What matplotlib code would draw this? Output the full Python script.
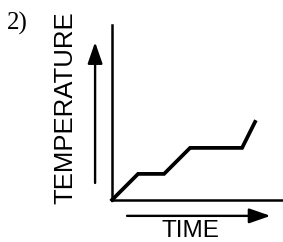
import matplotlib
matplotlib.use("Agg")
import matplotlib.pyplot as plt

# Data (arbitrary units)
time = [0, 2, 4, 6, 10, 11]
temperature = [0, 1, 1, 2, 2, 3]
label_number = "2)"
x_label = "TIME"
y_label = "TEMPERATURE"

fig = plt.figure(figsize=(2.83, 2.42), dpi=100)
fig.patch.set_facecolor("white")

ax = fig.add_axes([0.396, 0.174, 0.604, 0.723])
ax.plot(time, temperature, color="black", lw=2.7, solid_joinstyle="miter", clip_on=False)
ax.set_xlim(0, 13.15)
ax.set_ylim(0, 6.73)
ax.set_xticks([])
ax.set_yticks([])
for s in ["top", "right"]:
    ax.spines[s].set_visible(False)
for s in ["left", "bottom"]:
    ax.spines[s].set_linewidth(1.8)
    ax.spines[s].set_color("black")
ax.patch.set_alpha(0)

sans = "Liberation Sans"
# Number label
fig.text(0.062, 0.905, label_number, family="Liberation Serif", fontsize=18,
         ha="center", va="center")
# Axis labels
fig.text(0.232, 0.553, y_label, family=sans, fontsize=18.5, rotation=90,
         ha="center", va="center")
fig.text(0.672, 0.002, x_label, family=sans, fontsize=17.5, ha="center", va="bottom")

# Arrows
arrow = dict(arrowstyle="-|>,head_length=1.3,head_width=0.45", color="black",
             lw=1.7, mutation_scale=10, shrinkA=0, shrinkB=0)
fig.add_artist(matplotlib.patches.FancyArrowPatch(
    (0.336, 0.244), (0.336, 0.826), transform=fig.transFigure, **arrow))
fig.add_artist(matplotlib.patches.FancyArrowPatch(
    (0.449, 0.108), (0.956, 0.108), transform=fig.transFigure, **arrow))

fig.savefig("out.png", dpi=100)
